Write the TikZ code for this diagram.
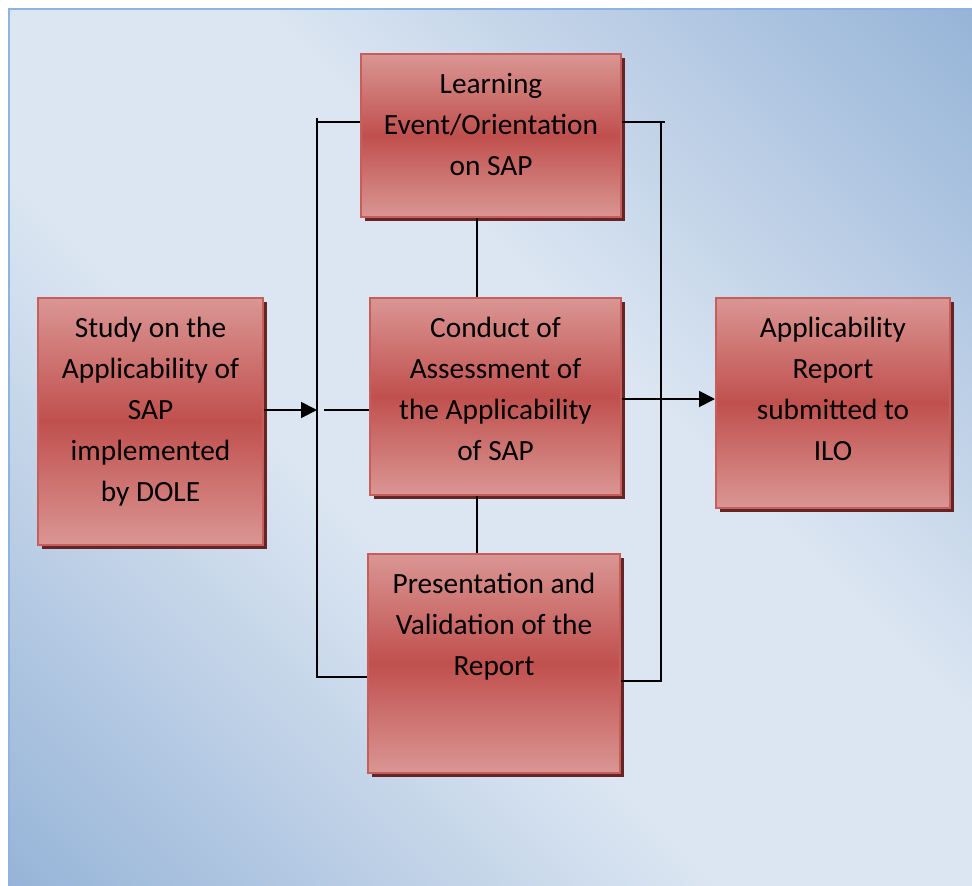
\documentclass[tikz,border=0pt]{standalone}
\usepackage{fontspec}
\setmainfont{Carlito}
\usetikzlibrary{arrows.meta,shadows,calc}
\definecolor{bgdark}{HTML}{95B3D7}
\definecolor{bglight}{HTML}{DCE6F2}
\definecolor{framec}{HTML}{8DB3E2}
\definecolor{boxlight}{HTML}{DA9694}
\definecolor{boxmid}{HTML}{C0504D}
\definecolor{boxedge}{HTML}{C65E5B}
\definecolor{shadowc}{HTML}{652526}
\pgfdeclareverticalshading{bgshade}{100bp}{color(0bp)=(bgdark); color(14bp)=(bgdark); color(42bp)=(bglight); color(58bp)=(bglight); color(86bp)=(bgdark); color(100bp)=(bgdark)}
\tikzset{
  box/.style={rectangle, draw=boxedge, line width=1.5pt, top color=boxlight, bottom color=boxlight, middle color=boxmid, inner sep=0pt,
    drop shadow={shadow xshift=3pt, shadow yshift=-3pt, fill=shadowc, opacity=1}},
  lbl/.style={anchor=base, inner sep=0pt, font=\fontsize{22}{30.75}\selectfont},
  conn/.style={draw=black, line width=1.4pt},
  arr/.style={conn, -{Triangle[length=12pt,width=12pt]}}
}
\newcommand{\stk}[1]{\setlength{\tabcolsep}{0pt}\begin{tabular}[t]{c}#1\end{tabular}}
\begin{document}
\begin{tikzpicture}[x=0.75pt,y=-0.75pt]
\useasboundingbox (0,0) rectangle (972,886);
\fill[white] (0,0) rectangle (972,886);
\shade[shading=bgshade, shading angle=-45] (8,8) rectangle (972,886);
\draw[framec, line width=1.5pt] (8.5,886) -- (8.5,8.5) -- (972,8.5);

% boxes
\node[box, minimum width=195pt, minimum height=122.25pt] (learn) at (491,135.5) {};
\node[box, minimum width=168.75pt, minimum height=185.25pt] (study) at (150.5,421.5) {};
\node[box, minimum width=188.25pt, minimum height=147.75pt] (conduct) at (495.5,396.5) {};
\node[box, minimum width=189pt, minimum height=164.25pt] (pres) at (494,663.5) {};
\node[box, minimum width=175.5pt, minimum height=157.5pt] (report) at (833,403) {};

% labels
\node[lbl] (learnT) at ([yshift=-30pt]learn.north) {\stk{Learning\\Event/Orientation\\on SAP}};
\node[lbl] (studyT) at ([yshift=-30pt]study.north) {\stk{Study on the\\Applicability of\\SAP\\implemented\\by DOLE}};
\node[lbl] (conductT) at ([yshift=-30pt]conduct.north) {\stk{Conduct of\\Assessment of\\the Applicability\\of SAP}};
\node[lbl] (presT) at ([yshift=-30pt]pres.north) {\stk{Presentation and\\Validation of the\\Report}};
\node[lbl] (reportT) at ([yshift=-30pt]report.north) {\stk{Applicability\\Report\\submitted to\\ILO}};

% connector coordinates
\coordinate (lt) at (317,122);
\coordinate (lb) at (317,677);
\coordinate (rt) at (661,122);
\coordinate (rte) at (665,122);
\coordinate (rb) at (661,681);
\coordinate (ain) at (317,410);
\coordinate (cin) at (324,410);
\coordinate (cout) at (621,399);
\coordinate (vx) at (477,0);

% connectors
\draw[conn] ($(lt)+(0,-4)$) -- (lb) -- (pres.west |- lb);
\draw[conn] (lt) -- (learn.west |- lt);
\draw[conn] (learn.east |- rt) -- (rte);
\draw[conn] (rt) -- (rb) -- (pres.east |- rb);
\draw[arr] (study.east |- ain) -- (ain);
\draw[conn] (cin) -- (conduct.west |- cin);
\draw[arr] (conduct.east |- cout) -- (report.west |- cout);
\draw[conn] (learn.south -| vx) -- (conduct.north -| vx);
\draw[conn] (conduct.south -| vx) -- (pres.north -| vx);
\end{tikzpicture}
\end{document}
